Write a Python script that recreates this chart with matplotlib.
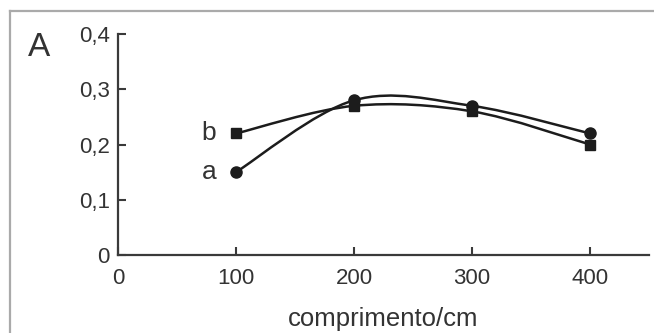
import numpy as np
import matplotlib.pyplot as plt
from matplotlib.path import Path
from matplotlib.patches import PathPatch
from matplotlib.lines import Line2D

plt.rcParams['font.family'] = ['Liberation Sans', 'DejaVu Sans']

comprimento = [100, 200, 300, 400]
serie_a = [0.15, 0.28, 0.27, 0.22]
serie_b = [0.22, 0.27, 0.26, 0.20]
xticks = [0, 100, 200, 300, 400]
yticks = [0, 0.1, 0.2, 0.3, 0.4]
ytick_labels = ['0', '0,1', '0,2', '0,3', '0,4']

ink = '#1c1c1c'
txt = '#333333'


def smooth_path(x, y):
    # curva suave (Catmull-Rom -> Bezier) passando pelos pontos
    p = np.column_stack([x, y]).astype(float)
    pts = [p[0]]
    codes = [Path.MOVETO]
    n = len(p)
    for i in range(n - 1):
        p0 = p[max(i - 1, 0)]
        p1 = p[i]
        p2 = p[i + 1]
        p3 = p[min(i + 2, n - 1)]
        c1 = p1 + (p2 - p0) / 6.0
        c2 = p2 - (p3 - p1) / 6.0
        pts += [c1, c2, p2]
        codes += [Path.CURVE4] * 3
    return Path(pts, codes)


fig = plt.figure(figsize=(6.54, 3.33), dpi=100)
ax = fig.add_axes([118 / 654, 78 / 333, 531 / 654, 221 / 333])

for ys, mk, ms in [(serie_a, 'o', 8), (serie_b, 's', 6.5)]:
    ax.add_patch(PathPatch(smooth_path(comprimento, ys), fill=False,
                           edgecolor=ink, lw=1.8, transform=ax.transData))
    ax.plot(comprimento, ys, ls='none', marker=mk, ms=ms, color=ink)

ax.annotate('a', (comprimento[0], serie_a[0]), xytext=(-19, 0),
            textcoords='offset points', ha='center', va='center',
            fontsize=19, color=txt)
ax.annotate('b', (comprimento[0], serie_b[0]), xytext=(-20, 0),
            textcoords='offset points', ha='center', va='center',
            fontsize=19, color=txt)

ax.set_xlim(0, 450)
ax.set_ylim(0, 0.4)
ax.set_xticks(xticks)
ax.set_yticks(yticks)
ax.set_yticklabels(ytick_labels)
ax.spines[['top', 'right']].set_visible(False)
for s in ['left', 'bottom']:
    ax.spines[s].set_color('#3a3a3a')
    ax.spines[s].set_linewidth(1.6)
ax.tick_params(direction='in', length=6, width=1.5, color='#3a3a3a',
               labelsize=16, labelcolor=txt)
ax.tick_params(axis='y', pad=6)
ax.tick_params(axis='x', pad=9)
ax.set_xlabel('comprimento/cm', fontsize=18.5, color=txt, labelpad=13)
ax.set_facecolor('none')

fig.text(39 / 654, 1 - 47 / 333, 'A', ha='center', va='center',
         fontsize=24, color=txt)

# moldura cinza (esquerda e topo)
bx = 10 / 654
by = 1 - 11 / 333
fig.add_artist(Line2D([bx, bx], [0, by], transform=fig.transFigure,
                      color='#aaaaaa', lw=1.6))
fig.add_artist(Line2D([bx, 1], [by, by], transform=fig.transFigure,
                      color='#aaaaaa', lw=1.6))

fig.savefig('out.png', dpi=100)
